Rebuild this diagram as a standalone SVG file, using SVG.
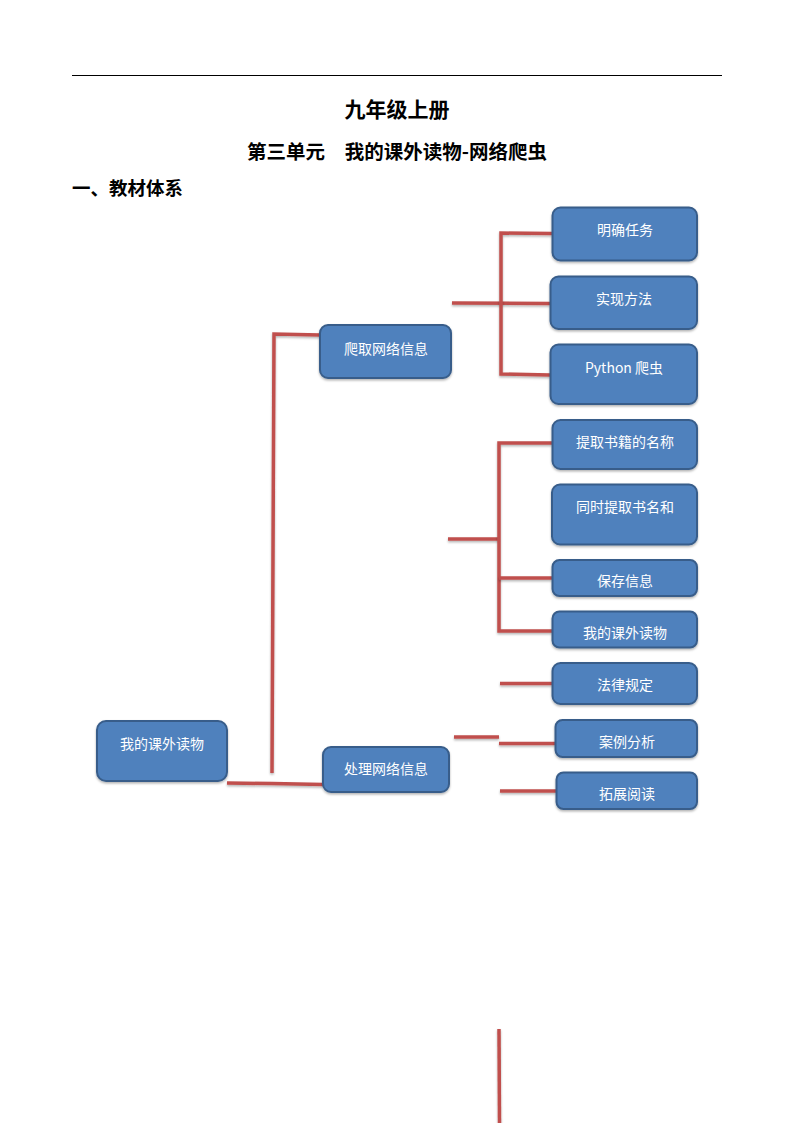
<svg xmlns="http://www.w3.org/2000/svg" width="794" height="1123" viewBox="0 0 794 1123">
<defs>
<filter id="sh" filterUnits="userSpaceOnUse" x="0" y="0" width="794" height="1123">
<feDropShadow dx="0" dy="1.5" stdDeviation="1.2" flood-color="#000" flood-opacity="0.3"/>
</filter>
</defs>
<style>
.hd{font-family:"Noto Sans CJK SC","Liberation Sans",sans-serif;font-weight:bold;fill:#000}
.box{fill:#4F81BD;stroke:#385D8A;stroke-width:2;filter:url(#sh)}
.lbl{font-family:"Noto Sans CJK SC","Liberation Sans",sans-serif;font-size:14px;fill:#fff;text-anchor:middle;dominant-baseline:central}
.ln{stroke:#C0504D;stroke-width:3.5;fill:none;stroke-linecap:butt;stroke-linejoin:miter;filter:url(#sh)}
</style>
<rect width="794" height="1123" fill="#fff"/>
<g id="header">
<line x1="72" y1="75.5" x2="722" y2="75.5" stroke="#000" stroke-width="1"/>
<text class="hd" x="397" y="108" font-size="21" text-anchor="middle" dominant-baseline="central">九年级上册</text>
<text class="hd" x="247" y="150" font-size="19.5" dominant-baseline="central">第三单元</text>
<text class="hd" x="547" y="150" font-size="19.5" text-anchor="end" dominant-baseline="central">我的课外读物-网络爬虫</text>
<text class="hd" x="72" y="187" font-size="18.5" dominant-baseline="central">一、教材体系</text>
</g>
<g id="connectors">
<polyline class="ln" points="227,783 272,783.5 323,784.5"/>
<polyline class="ln" points="272,773 274,334 320,335"/>
<line class="ln" x1="452" y1="303" x2="550" y2="303.5"/>
<polyline class="ln" points="552,233.5 501,233 501,374 550,375"/>
<line class="ln" x1="448" y1="539" x2="499" y2="539"/>
<polyline class="ln" points="552,443 499,443 499,631 552,631"/>
<line class="ln" x1="499" y1="578" x2="552" y2="578"/>
<line class="ln" x1="500" y1="683.5" x2="552" y2="683.5"/>
<line class="ln" x1="454" y1="737" x2="499" y2="737"/>
<line class="ln" x1="499" y1="743.5" x2="555" y2="743.5"/>
<line class="ln" x1="500" y1="791" x2="556" y2="791"/>
<line class="ln" x1="499" y1="1029" x2="499.5" y2="1123"/>
</g>
<g id="n-root"><rect class="box" x="97" y="721" width="130" height="60" rx="9"/><text class="lbl" x="162" y="743">我的课外读物</text></g>
<g id="n-crawl"><rect class="box" x="320" y="325" width="131" height="53" rx="8"/><text class="lbl" x="386" y="348">爬取网络信息</text></g>
<g id="n-process"><rect class="box" x="323" y="747" width="126" height="45" rx="8"/><text class="lbl" x="386" y="768">处理网络信息</text></g>
<g id="n-task"><rect class="box" x="552.5" y="207.5" width="144.5" height="53" rx="8"/><text class="lbl" x="625" y="229">明确任务</text></g>
<g id="n-method"><rect class="box" x="550.5" y="276.5" width="146.5" height="52.5" rx="8"/><text class="lbl" x="624" y="298">实现方法</text></g>
<g id="n-python"><rect class="box" x="550.5" y="344.5" width="146.5" height="59.5" rx="8"/><text class="lbl" x="624" y="367">Python 爬虫</text></g>
<g id="n-extract"><rect class="box" x="552.5" y="420" width="144.5" height="49" rx="8"/><text class="lbl" x="625" y="441">提取书籍的名称</text></g>
<g id="n-both"><rect class="box" x="552" y="484.5" width="145" height="60" rx="8"/><text class="lbl" x="625" y="506">同时提取书名和</text></g>
<g id="n-save"><rect class="box" x="552.5" y="560" width="144.5" height="36" rx="7"/><text class="lbl" x="625" y="580">保存信息</text></g>
<g id="n-reading"><rect class="box" x="552.5" y="611.5" width="144.5" height="36" rx="7"/><text class="lbl" x="625" y="632">我的课外读物</text></g>
<g id="n-law"><rect class="box" x="552.5" y="663" width="144.5" height="41" rx="8"/><text class="lbl" x="625" y="684">法律规定</text></g>
<g id="n-case"><rect class="box" x="555.5" y="720" width="141.5" height="37" rx="7"/><text class="lbl" x="627" y="741">案例分析</text></g>
<g id="n-ext"><rect class="box" x="556.5" y="772.5" width="140.5" height="36.5" rx="7"/><text class="lbl" x="627" y="793">拓展阅读</text></g>
</svg>
